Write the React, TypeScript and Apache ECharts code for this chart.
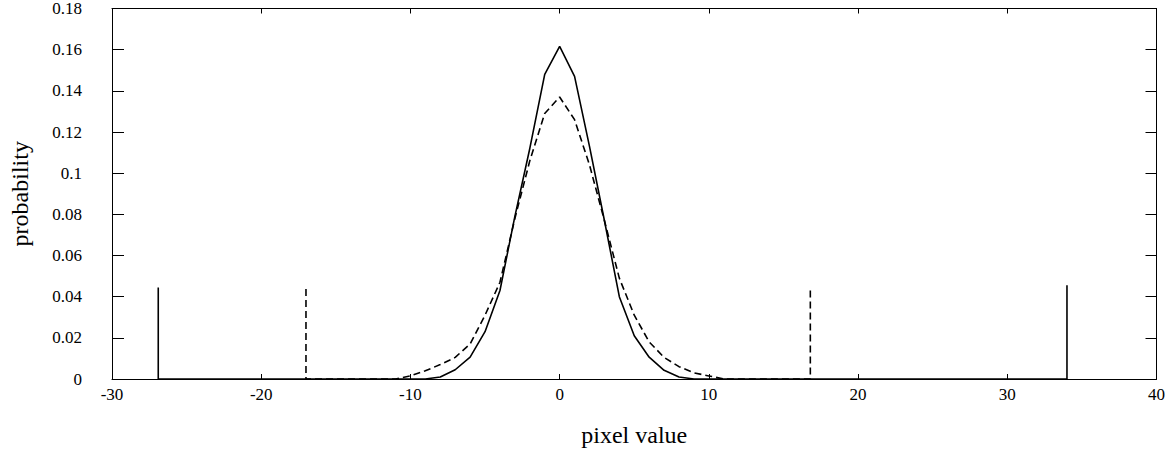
import React, { useEffect, useRef } from "react";
import * as echarts from "echarts";

// pixel values at which the two histograms are sampled
const pixelValues = [-11, -10, -9, -8, -7, -6, -5, -4, -3, -2, -1, 0, 1, 2, 3, 4, 5, 6, 7, 8, 9, 10, 11];
// solid curve probabilities
const solidProb = [0, 0, 0, 0.001, 0.0045, 0.0106, 0.023, 0.043, 0.079, 0.112, 0.148, 0.1616, 0.147, 0.113, 0.077, 0.040, 0.021, 0.0106, 0.0042, 0.001, 0, 0, 0];
// dashed curve probabilities
const dashedProb = [0, 0.0015, 0.004, 0.007, 0.0105, 0.017, 0.031, 0.047, 0.078, 0.106, 0.129, 0.137, 0.126, 0.104, 0.077, 0.049, 0.031, 0.018, 0.0105, 0.006, 0.003, 0.0015, 0];
// end markers (vertical bars) of each curve: positions and heights
const solidBounds = [-26.9, 34];
const solidBoundHeights = [0.0445, 0.0455];
const dashedBounds = [-17, 16.8];
const dashedBoundHeights = [0.0437, 0.0443];

const xTicks = { min: -30, max: 40, interval: 10 };
const yTicks = { min: 0, max: 0.18, interval: 0.02 };

function buildSeries(bounds: number[], heights: number[], probs: number[]) {
  const pts: number[][] = [];
  pts.push([bounds[0], heights[0]]);
  pts.push([bounds[0], 0]);
  pixelValues.forEach((x, i) => pts.push([x, probs[i]]));
  pts.push([bounds[1], 0]);
  pts.push([bounds[1], heights[1]]);
  return pts;
}

const FONT = "'Liberation Serif', 'DejaVu Serif', serif";

export default function App() {
  const ref = useRef<HTMLDivElement>(null);
  useEffect(() => {
    if (!ref.current) return;
    const chart = echarts.init(ref.current, undefined, { renderer: "svg" });
    const axisLine = { show: true, onZero: false, lineStyle: { color: "#000", width: 1 } };
    const labelStyle = { color: "#000", fontFamily: FONT, fontSize: 17 };
    chart.setOption({
      animation: false,
      backgroundColor: "#fff",
      grid: { left: 111, right: 6, top: 8, bottom: 70, containLabel: false },
      xAxis: [
        {
          type: "value",
          position: "bottom",
          min: xTicks.min,
          max: xTicks.max,
          interval: xTicks.interval,
          axisLine,
          axisTick: { show: true, inside: true, length: 5, lineStyle: { color: "#000" } },
          axisLabel: { ...labelStyle, margin: 7 },
          splitLine: { show: false },
          name: "pixel value",
          nameLocation: "middle",
          nameGap: 44,
          nameTextStyle: { color: "#000", fontFamily: FONT, fontSize: 24 },
        },
        {
          type: "value",
          position: "top",
          min: xTicks.min,
          max: xTicks.max,
          interval: xTicks.interval,
          axisLine,
          axisTick: { show: true, inside: true, length: 5, lineStyle: { color: "#000" } },
          axisLabel: { show: false },
          splitLine: { show: false },
        },
      ],
      yAxis: [
        {
          type: "value",
          position: "left",
          min: yTicks.min,
          max: yTicks.max,
          interval: yTicks.interval,
          axisLine,
          axisTick: { show: true, inside: true, length: 12, lineStyle: { color: "#000" } },
          axisLabel: { ...labelStyle, margin: 30 },
          splitLine: { show: false },
          name: "probability",
          nameLocation: "middle",
          nameGap: 80,
          nameTextStyle: { color: "#000", fontFamily: FONT, fontSize: 24 },
        },
        {
          type: "value",
          position: "right",
          min: yTicks.min,
          max: yTicks.max,
          interval: yTicks.interval,
          axisLine,
          axisTick: { show: true, inside: true, length: 11, lineStyle: { color: "#000" } },
          axisLabel: { show: false },
          splitLine: { show: false },
        },
      ],
      series: [
        {
          type: "line",
          data: buildSeries(solidBounds, solidBoundHeights, solidProb),
          symbol: "none",
          lineStyle: { color: "#000", width: 1.6, type: "solid" },
          z: 3,
        },
        {
          type: "line",
          data: buildSeries(dashedBounds, dashedBoundHeights, dashedProb),
          symbol: "none",
          lineStyle: { color: "#000", width: 1.6, type: [7, 4] },
          z: 2,
        },
      ],
    });
    return () => chart.dispose();
  }, []);
  return (
    <div
      ref={ref}
      style={{ position: "absolute", left: 0, top: 0, width: 1168, height: 452 }}
    />
  );
}
